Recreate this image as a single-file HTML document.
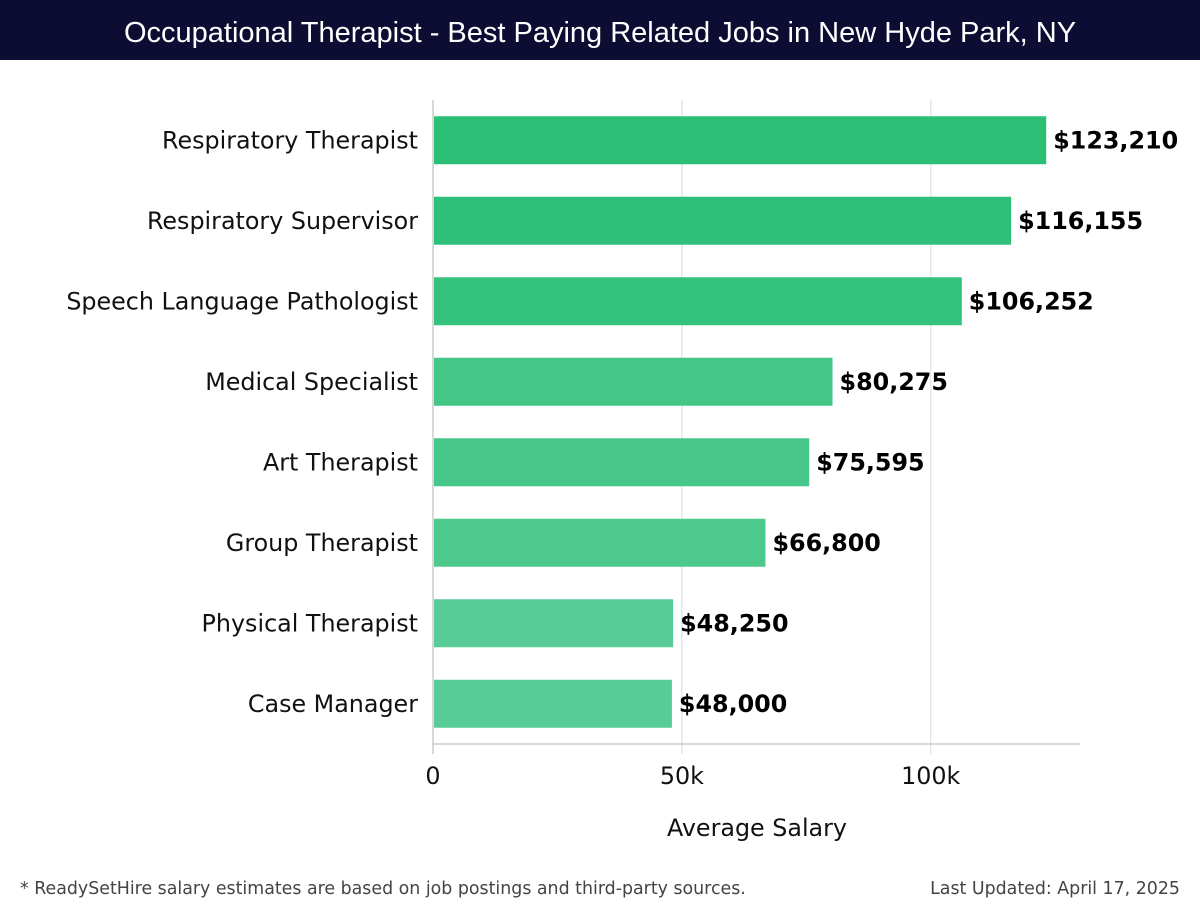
<!DOCTYPE html>
<html><head><meta charset="utf-8"><style>
html,body{margin:0;padding:0;background:#fff;width:1200px;height:920px;overflow:hidden}
#title{position:absolute;left:0;top:0;width:1200px;height:60px;background:#0d0c33;color:#fff;font:29px "Liberation Sans",sans-serif;text-align:center;line-height:66px}
.foot{position:absolute;top:879px;font:17.4px "DejaVu Sans",sans-serif;color:#444}
</style></head><body>
<div id="title">Occupational Therapist - Best Paying Related Jobs in New Hyde Park, NY</div>
<svg id="chart" width="1200" height="920" style="position:absolute;left:0;top:0"></svg>
<div class="foot" style="left:20px">* ReadySetHire salary estimates are based on job postings and third-party sources.</div>
<div class="foot" style="right:20px">Last Updated: April 17, 2025</div>
<script>
const categories=["Respiratory Therapist","Respiratory Supervisor","Speech Language Pathologist","Medical Specialist","Art Therapist","Group Therapist","Physical Therapist","Case Manager"];
const values=[123210,116155,106252,80275,75595,66800,48250,48000];
const valueLabels=["$123,210","$116,155","$106,252","$80,275","$75,595","$66,800","$48,250","$48,000"];
const ticks=[0,50000,100000];
const tickLabels=["0","50k","100k"];
const NS="http://www.w3.org/2000/svg";
const svg=document.getElementById('chart');
const x0=433,x1=1080,xmax=130000,plotTop=100,plotBottom=744;
const xs=v=>x0+v/xmax*(x1-x0);
const band=(plotBottom-plotTop)/categories.length;
const yc=i=>plotTop+band*(i+0.5);
const FS=23.8;
function mk(t,a,txt){const e=document.createElementNS(NS,t);for(const k in a)e.setAttribute(k,a[k]);if(txt!=null)e.textContent=txt;svg.appendChild(e);return e;}
ticks.forEach((t,i)=>{
 const g=mk('line',{x1:xs(t),x2:xs(t),y1:plotTop,y2:754,stroke:i==0?'#ccc':'#e6e6e6','stroke-width':1.5});
 
 
 const l=mk('text',{x:xs(t),y:784,'text-anchor':'middle','font-family':'DejaVu Sans, sans-serif','font-size':FS,fill:'#111'},tickLabels[i]);
 
 
});
const ax=mk('line',{x1:x0,x2:x1,y1:plotBottom,y2:plotBottom,stroke:'#ccc','stroke-width':1.5});


const at=mk('text',{x:757,y:836,'text-anchor':'middle','font-family':'DejaVu Sans, sans-serif','font-size':FS,fill:'#111'},'Average Salary');


const cols=['#2bbf76','#2ec078','#33c17b','#44c687','#47c789','#4ec98d','#57cc96','#58cc97'];
categories.forEach((c,i)=>{
 const bh=48,y=yc(i)-bh/2;
 const r=mk('rect',{x:x0+1,y:y,width:xs(values[i])-x0-1,height:bh,fill:cols[i]});
 
 
 const l=mk('text',{x:418,y:yc(i)+8,'text-anchor':'end','font-family':'DejaVu Sans, sans-serif','font-size':FS,fill:'#111'},c);
 
 
 const v=mk('text',{x:xs(values[i])+7,y:yc(i)+8,'font-family':'DejaVu Sans, sans-serif','font-size':FS,'font-weight':'bold',fill:'#000'},valueLabels[i]);
 
 
});
</script>
</body></html>
